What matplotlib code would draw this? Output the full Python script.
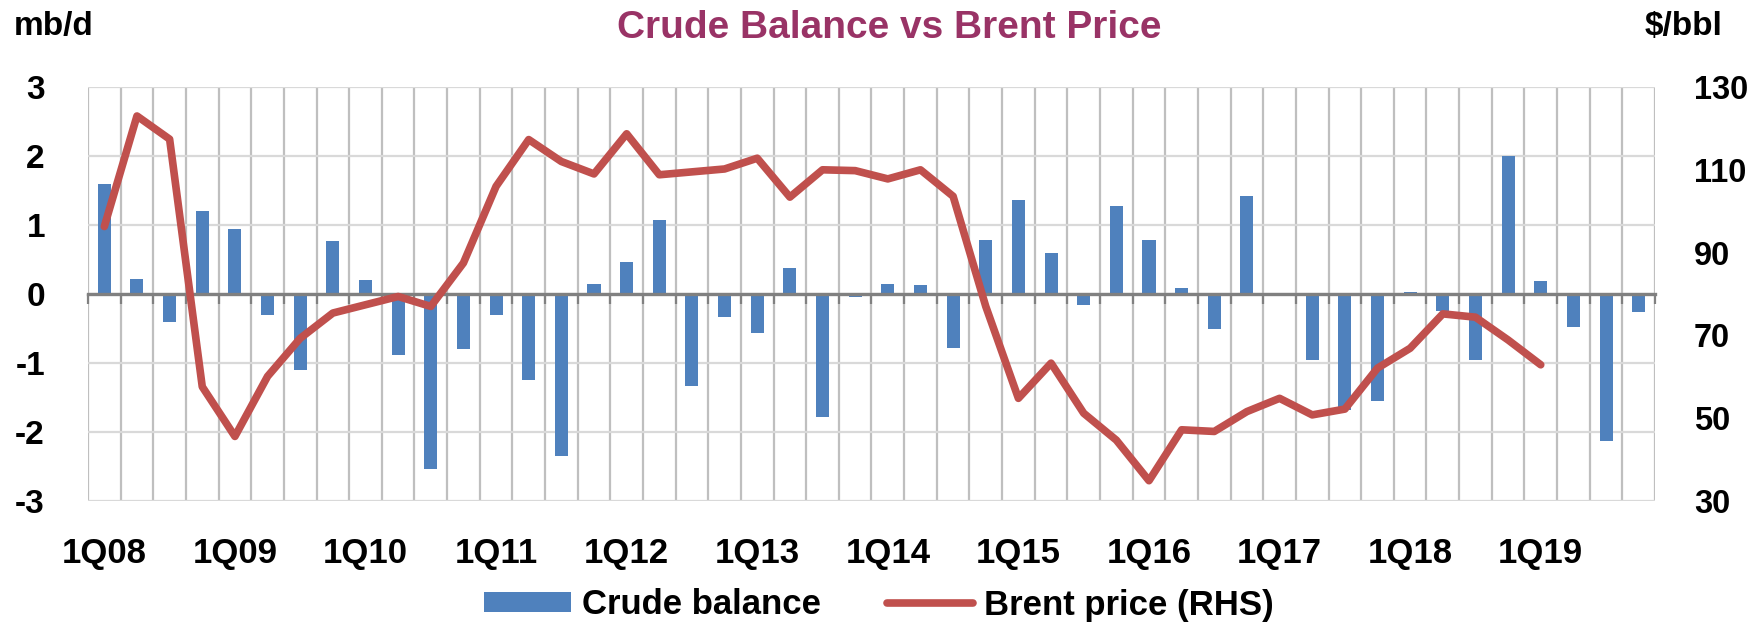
import numpy as np
import matplotlib
matplotlib.use("Agg")
import matplotlib.pyplot as plt
from matplotlib.patches import Patch
from matplotlib.lines import Line2D

plt.rcParams["font.family"] = ["Liberation Sans", "DejaVu Sans"]
plt.rcParams["font.weight"] = "bold"

# Quarterly data, 1Q08 .. 4Q19
quarters = [f"{q}Q{y:02d}" for y in range(8, 20) for q in range(1, 5)]
crude_balance = [1.60, 0.22, -0.41, 1.21, 0.94, -0.31, -1.10, 0.77,
                 0.21, -0.88, -2.53, -0.79, -0.31, -1.25, -2.35, 0.14,
                 0.46, 1.07, -1.34, -0.34, -0.57, 0.38, -1.78, -0.05,
                 0.15, 0.13, -0.78, 0.78, 1.36, 0.59, -0.16, 1.28,
                 0.78, 0.08, -0.51, 1.42, 0.00, -0.96, -1.68, -1.55,
                 0.03, -0.25, -0.95, 2.00, 0.19, -0.48, -2.13, -0.26]
brent_price = [96.3, 123.0, 117.4, 57.6, 45.6, 60.1, 69.3, 75.4,
               77.4, 79.4, 77.0, 87.5, 106.0, 117.3, 112.0, 109.0,
               118.7, 108.8, 109.5, 110.2, 112.8, 103.4, 110.0, 109.8,
               107.8, 110.0, 103.6, 77.0, 54.8, 63.3, 51.2, 44.7,
               34.9, 47.2, 46.8, 51.6, 54.8, 50.8, 52.2, 62.1,
               66.9, 75.2, 74.4, 68.9, 62.9]
label_quarters = quarters[::4]
left_ticks = [-3, -2, -1, 0, 1, 2, 3]
right_ticks = [30, 50, 70, 90, 110, 130]

BLUE = "#4F81BD"
RED = "#C0504D"
W, H = 1748, 622

fig = plt.figure(figsize=(W / 100, H / 100), dpi=100)
ax = fig.add_axes([88 / W, 1 - 501 / H, (1655 - 88) / W, (501 - 87) / H])

x = np.arange(len(quarters))
ax.bar(x, crude_balance, width=0.40, color=BLUE, zorder=2)
ax.set_xlim(-0.5, len(quarters) - 0.5)
ax.set_ylim(-3, 3)
ax.set_yticks(left_ticks)
ax.set_yticklabels([str(t) for t in left_ticks])
ax.set_axisbelow(True)

# category boundaries: vertical grid + tick marks hanging off the zero line
bounds = np.arange(-0.5, len(quarters), 1.0)
ax.set_xticks(bounds)
ax.set_xticklabels([])
ax.tick_params(axis="x", direction="out", length=7, width=1.6, color="#808080")
ax.grid(axis="x", color="#BFBFBF", lw=1.6)
ax.grid(axis="y", color="#D9D9D9", lw=1.6)
ax.tick_params(axis="y", length=0, pad=31, labelsize=24)

for s in ("top", "left", "right"):
    ax.spines[s].set_visible(False)
ax.spines["bottom"].set_position(("data", 0))
ax.spines["bottom"].set_color("#808080")
ax.spines["bottom"].set_linewidth(2.4)
ax.spines["bottom"].set_zorder(3)

# quarter labels along the bottom of the plot area
sec = ax.secondary_xaxis("bottom")
sec.set_xticks(x[::4])
sec.set_xticklabels(label_quarters)
sec.tick_params(length=0, pad=26, labelsize=25)
sec.spines["bottom"].set_visible(False)

ax2 = ax.twinx()
ax2.plot(np.arange(len(brent_price)), brent_price, color=RED, lw=5.5,
         solid_joinstyle="round", solid_capstyle="round", zorder=4)
ax2.set_ylim(30, 130)
ax2.set_yticks(right_ticks)
ax2.set_yticklabels([str(t) for t in right_ticks])
ax2.tick_params(axis="y", length=0, pad=28, labelsize=23.5)
for s in ax2.spines.values():
    s.set_visible(False)

fig.text(889 / W, 1 - 28 / H, "Crude Balance vs Brent Price", ha="center",
         va="center", fontsize=28, fontweight="bold", color="#993366")
fig.text(14 / W, 1 - 27 / H, "mb/d", ha="left", va="center", fontsize=24,
         fontweight="bold")
fig.text(1722 / W, 1 - 27 / H, "$/bbl", ha="right", va="center", fontsize=24,
         fontweight="bold")

handles = [Patch(facecolor=BLUE, edgecolor="none", label="Crude balance"),
           Line2D([], [], color=RED, lw=5.5, solid_capstyle="round",
                  label="Brent price (RHS)")]
fig.legend(handles=handles, loc="center", bbox_to_anchor=(879 / W, 1 - 605 / H),
           ncol=2, frameon=False, prop={"size": 25, "weight": "bold"},
           handlelength=2.5, handleheight=0.52, handletextpad=0.3,
           columnspacing=1.9, borderpad=0, borderaxespad=0)

fig.savefig("out.png", dpi=100)
